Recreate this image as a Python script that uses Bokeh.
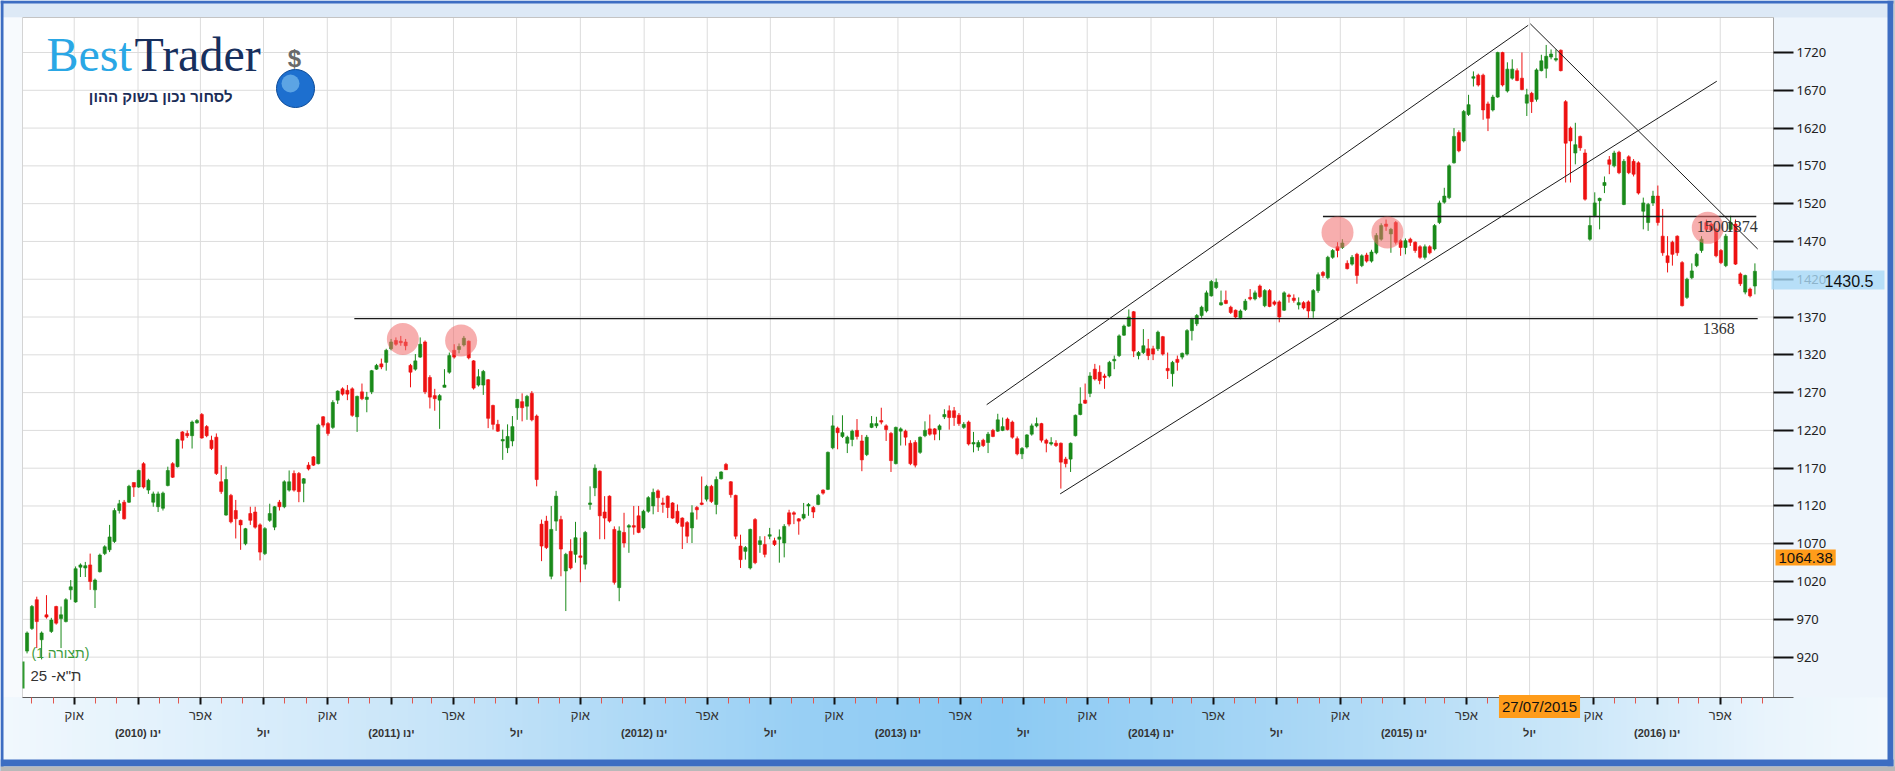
import numpy as np
import pandas as pd
from bokeh.plotting import figure
from bokeh.models import LinearAxis, FixedTicker, Label, BoxAnnotation, ColumnDataSource, Range1d
from bokeh.embed import file_html
from bokeh.resources import INLINE

# ------------------------------------------------------------------ data
FIRST_WEEK = "2009-07-25"          # weekly candles of the TA-25 index

OPEN = [
    928, 958, 996, 943, 976, 954, 987, 971, 967, 1009,
    993, 1039, 1038, 1042, 1009, 1033, 1057, 1062, 1073, 1114,
    1125, 1125, 1151, 1145, 1176, 1141, 1125, 1119, 1117, 1147,
    1176, 1172, 1218, 1216, 1213, 1230, 1241, 1225, 1207, 1211,
    1152, 1108, 1134, 1114, 1101, 1070, 1110, 1112, 1095, 1057,
    1101, 1092, 1125, 1119, 1141, 1163, 1163, 1150, 1174, 1185,
    1176, 1238, 1229, 1224, 1260, 1275, 1273, 1275, 1238, 1271,
    1261, 1271, 1301, 1308, 1310, 1328, 1339, 1338, 1337, 1306,
    1301, 1317, 1337, 1290, 1266, 1260, 1277, 1297, 1326, 1327,
    1333, 1338, 1312, 1280, 1280, 1287, 1253, 1228, 1206, 1197,
    1206, 1250, 1258, 1252, 1269, 1239, 1096, 1100, 1027, 1100,
    1102, 1034, 1060, 1056, 1054, 1043, 1122, 1144, 1166, 1112,
    1133, 1089, 1012, 1085, 1092, 1094, 1107, 1091, 1113, 1120,
    1140, 1124, 1133, 1124, 1113, 1104, 1098, 1091, 1118, 1124,
    1129, 1146, 1122, 1156, 1175, 1152, 1134, 1067, 1060, 1038,
    1102, 1069, 1069, 1080, 1074, 1076, 1071, 1111, 1111, 1103,
    1104, 1120, 1118, 1122, 1141, 1142, 1197, 1223, 1212, 1203,
    1208, 1220, 1206, 1188, 1224, 1226, 1233, 1226, 1216, 1176,
    1219, 1219, 1203, 1204, 1191, 1213, 1222, 1222, 1221, 1238,
    1246, 1246, 1240, 1224, 1231, 1202, 1198, 1207, 1204, 1220,
    1219, 1220, 1235, 1231, 1209, 1189, 1198, 1215, 1226, 1229,
    1207, 1202, 1203, 1203, 1182, 1182, 1213, 1241, 1260, 1269,
    1301, 1297, 1292, 1292, 1312, 1319, 1346, 1358, 1377, 1319,
    1323, 1328, 1328, 1328, 1344, 1302, 1295, 1314, 1317, 1321,
    1352, 1361, 1372, 1378, 1398, 1409, 1386, 1392, 1383, 1379,
    1369, 1380, 1396, 1394, 1411, 1385, 1405, 1390, 1390, 1379,
    1399, 1395, 1386, 1389, 1390, 1378, 1405, 1429, 1422, 1449,
    1463, 1462, 1441, 1440, 1453, 1438, 1452, 1444, 1455, 1473,
    1493, 1480, 1495, 1471, 1462, 1473, 1469, 1463, 1449, 1463,
    1460, 1495, 1522, 1528, 1574, 1614, 1603, 1638, 1686, 1690,
    1690, 1652, 1644, 1661, 1720, 1669, 1686, 1696, 1686, 1653,
    1666, 1658, 1696, 1699, 1714, 1710, 1723, 1655, 1620, 1587,
    1609, 1587, 1473, 1504, 1524, 1544, 1578, 1570, 1588, 1519,
    1582, 1576, 1574, 1510, 1495, 1521, 1530, 1477, 1451, 1469,
    1477, 1442, 1396, 1422, 1438, 1458, 1495, 1493, 1486, 1458,
    1438, 1486, 1493, 1427, 1403, 1407, 1411]

HIGH = [
    954, 989, 1000, 954, 1002, 972, 988, 987, 998, 1022,
    1040, 1044, 1046, 1057, 1024, 1057, 1068, 1095, 1117, 1128,
    1128, 1148, 1151, 1168, 1178, 1156, 1139, 1139, 1139, 1172,
    1178, 1209, 1219, 1220, 1233, 1235, 1243, 1227, 1213, 1216,
    1174, 1172, 1136, 1128, 1102, 1091, 1119, 1119, 1097, 1092,
    1123, 1120, 1128, 1154, 1167, 1167, 1165, 1157, 1178, 1186,
    1229, 1239, 1231, 1260, 1273, 1277, 1280, 1277, 1266, 1282,
    1271, 1300, 1308, 1315, 1328, 1341, 1343, 1345, 1341, 1308,
    1321, 1343, 1339, 1293, 1275, 1268, 1301, 1323, 1334, 1335,
    1345, 1339, 1313, 1301, 1300, 1288, 1254, 1234, 1221, 1228,
    1239, 1261, 1269, 1267, 1272, 1241, 1102, 1107, 1120, 1140,
    1107, 1058, 1076, 1099, 1078, 1087, 1146, 1175, 1167, 1133,
    1134, 1093, 1093, 1111, 1096, 1120, 1120, 1115, 1133, 1143,
    1142, 1131, 1134, 1125, 1122, 1105, 1100, 1121, 1120, 1159,
    1148, 1148, 1159, 1166, 1177, 1153, 1135, 1082, 1067, 1090,
    1104, 1080, 1080, 1091, 1078, 1089, 1096, 1115, 1113, 1104,
    1124, 1124, 1120, 1136, 1142, 1192, 1240, 1225, 1240, 1213,
    1221, 1235, 1214, 1214, 1239, 1238, 1250, 1228, 1218, 1225,
    1224, 1221, 1207, 1207, 1212, 1232, 1241, 1223, 1228, 1248,
    1253, 1251, 1243, 1231, 1233, 1218, 1207, 1209, 1218, 1222,
    1242, 1237, 1237, 1233, 1212, 1198, 1215, 1229, 1237, 1230,
    1209, 1211, 1207, 1204, 1185, 1204, 1241, 1277, 1282, 1297,
    1308, 1306, 1295, 1312, 1319, 1347, 1360, 1380, 1378, 1325,
    1354, 1341, 1332, 1352, 1345, 1323, 1312, 1319, 1323, 1354,
    1369, 1374, 1385, 1405, 1419, 1421, 1405, 1405, 1385, 1380,
    1380, 1394, 1407, 1405, 1413, 1407, 1407, 1392, 1392, 1404,
    1401, 1400, 1396, 1391, 1392, 1407, 1429, 1431, 1451, 1460,
    1469, 1473, 1445, 1452, 1455, 1453, 1455, 1459, 1481, 1494,
    1499, 1488, 1497, 1473, 1474, 1475, 1470, 1465, 1466, 1465,
    1493, 1524, 1541, 1572, 1620, 1617, 1644, 1664, 1695, 1692,
    1692, 1655, 1664, 1721, 1721, 1707, 1711, 1699, 1720, 1672,
    1668, 1699, 1717, 1730, 1724, 1724, 1724, 1657, 1622, 1627,
    1610, 1592, 1504, 1535, 1528, 1556, 1583, 1590, 1590, 1579,
    1584, 1579, 1576, 1528, 1521, 1537, 1544, 1513, 1477, 1471,
    1478, 1444, 1422, 1441, 1455, 1477, 1499, 1495, 1488, 1460,
    1480, 1504, 1499, 1429, 1426, 1409, 1441]

LOW = [
    925, 956, 932, 917, 971, 952, 963, 932, 966, 996,
    992, 1026, 1026, 1009, 985, 1032, 1055, 1059, 1071, 1110,
    1102, 1124, 1132, 1144, 1143, 1136, 1119, 1112, 1114, 1146,
    1157, 1171, 1196, 1210, 1196, 1229, 1209, 1211, 1194, 1161,
    1136, 1107, 1097, 1077, 1062, 1068, 1095, 1090, 1048, 1055,
    1099, 1088, 1114, 1117, 1139, 1139, 1125, 1125, 1167, 1173,
    1175, 1224, 1213, 1222, 1255, 1266, 1260, 1238, 1218, 1260,
    1244, 1268, 1300, 1301, 1299, 1326, 1332, 1332, 1326, 1277,
    1299, 1316, 1268, 1249, 1246, 1222, 1277, 1295, 1315, 1322,
    1331, 1314, 1274, 1278, 1267, 1223, 1221, 1218, 1181, 1190,
    1199, 1234, 1232, 1234, 1232, 1146, 1047, 1063, 1023, 1087,
    1027, 981, 1036, 1045, 1019, 1036, 1115, 1133, 1076, 1076,
    1098, 1016, 994, 1065, 1058, 1082, 1084, 1089, 1111, 1109,
    1112, 1111, 1104, 1103, 1096, 1063, 1071, 1071, 1102, 1121,
    1126, 1124, 1109, 1155, 1168, 1131, 1076, 1038, 1049, 1036,
    1043, 1058, 1052, 1076, 1067, 1045, 1052, 1093, 1096, 1082,
    1102, 1107, 1104, 1121, 1135, 1141, 1195, 1195, 1210, 1190,
    1199, 1208, 1166, 1186, 1223, 1223, 1228, 1206, 1165, 1175,
    1200, 1200, 1174, 1171, 1189, 1211, 1213, 1207, 1207, 1235,
    1221, 1226, 1226, 1222, 1200, 1191, 1193, 1198, 1190, 1211,
    1218, 1219, 1220, 1209, 1187, 1182, 1196, 1213, 1224, 1204,
    1191, 1200, 1198, 1143, 1171, 1165, 1212, 1240, 1255, 1264,
    1286, 1281, 1275, 1290, 1301, 1317, 1345, 1357, 1317, 1314,
    1321, 1313, 1313, 1325, 1319, 1288, 1278, 1299, 1314, 1319,
    1339, 1358, 1369, 1376, 1397, 1407, 1385, 1387, 1374, 1368,
    1367, 1378, 1392, 1392, 1395, 1383, 1383, 1385, 1363, 1378,
    1389, 1389, 1380, 1380, 1369, 1369, 1402, 1422, 1420, 1447,
    1449, 1460, 1433, 1438, 1414, 1436, 1442, 1442, 1453, 1471,
    1484, 1455, 1466, 1451, 1453, 1464, 1455, 1447, 1446, 1453,
    1458, 1493, 1520, 1526, 1573, 1588, 1601, 1636, 1675, 1675,
    1631, 1616, 1642, 1660, 1675, 1667, 1684, 1682, 1670, 1636,
    1640, 1655, 1695, 1686, 1711, 1708, 1695, 1548, 1548, 1572,
    1590, 1524, 1471, 1502, 1486, 1534, 1559, 1568, 1559, 1518,
    1559, 1556, 1532, 1486, 1484, 1517, 1491, 1451, 1429, 1438,
    1451, 1384, 1394, 1420, 1436, 1455, 1484, 1484, 1449, 1440,
    1436, 1484, 1439, 1411, 1400, 1396, 1400]

CLOSE = [
    952, 987, 967, 952, 973, 969, 965, 976, 996, 1013,
    1037, 1042, 1041, 1020, 1022, 1055, 1066, 1079, 1114, 1123,
    1103, 1146, 1145, 1167, 1145, 1154, 1136, 1136, 1137, 1167,
    1158, 1208, 1207, 1213, 1231, 1233, 1210, 1213, 1196, 1163,
    1139, 1155, 1099, 1103, 1095, 1090, 1101, 1092, 1059, 1090,
    1110, 1119, 1119, 1152, 1152, 1141, 1139, 1156, 1169, 1174,
    1227, 1227, 1216, 1257, 1272, 1268, 1268, 1240, 1265, 1262,
    1264, 1299, 1306, 1304, 1326, 1337, 1334, 1336, 1332, 1297,
    1312, 1334, 1271, 1264, 1262, 1266, 1280, 1319, 1317, 1331,
    1342, 1316, 1276, 1291, 1298, 1236, 1228, 1219, 1208, 1212,
    1225, 1261, 1250, 1265, 1234, 1155, 1067, 1065, 1089, 1133,
    1063, 1056, 1038, 1078, 1052, 1085, 1124, 1170, 1107, 1104,
    1100, 1019, 1087, 1071, 1094, 1092, 1085, 1113, 1131, 1138,
    1131, 1122, 1118, 1104, 1098, 1093, 1080, 1111, 1115, 1122,
    1146, 1126, 1155, 1165, 1168, 1135, 1080, 1049, 1065, 1089,
    1045, 1074, 1056, 1082, 1069, 1079, 1093, 1096, 1109, 1100,
    1109, 1122, 1112, 1134, 1137, 1191, 1226, 1217, 1217, 1211,
    1219, 1212, 1181, 1211, 1229, 1229, 1231, 1221, 1180, 1224,
    1222, 1211, 1176, 1174, 1211, 1220, 1215, 1215, 1226, 1241,
    1237, 1237, 1229, 1228, 1202, 1204, 1204, 1200, 1215, 1212,
    1234, 1225, 1221, 1211, 1189, 1196, 1214, 1226, 1229, 1207,
    1203, 1204, 1200, 1178, 1176, 1203, 1240, 1255, 1256, 1292,
    1288, 1286, 1290, 1310, 1314, 1345, 1358, 1370, 1325, 1323,
    1332, 1319, 1321, 1350, 1321, 1299, 1310, 1310, 1322, 1352,
    1367, 1372, 1383, 1402, 1417, 1416, 1389, 1388, 1376, 1370,
    1378, 1391, 1394, 1402, 1397, 1405, 1384, 1387, 1370, 1402,
    1397, 1392, 1389, 1382, 1378, 1405, 1426, 1425, 1449, 1458,
    1458, 1468, 1434, 1449, 1425, 1451, 1444, 1456, 1478, 1491,
    1490, 1486, 1469, 1462, 1471, 1469, 1458, 1449, 1463, 1455,
    1491, 1521, 1530, 1570, 1609, 1590, 1642, 1651, 1688, 1677,
    1644, 1633, 1661, 1720, 1677, 1698, 1698, 1683, 1671, 1664,
    1655, 1697, 1709, 1715, 1718, 1712, 1696, 1600, 1603, 1598,
    1594, 1526, 1491, 1521, 1527, 1548, 1572, 1587, 1561, 1576,
    1561, 1559, 1534, 1521, 1519, 1530, 1495, 1455, 1442, 1453,
    1455, 1385, 1420, 1431, 1453, 1473, 1486, 1485, 1451, 1442,
    1477, 1495, 1440, 1414, 1425, 1398, 1430.5]

Y_TICKS = [920, 970, 1020, 1070, 1120, 1170, 1220, 1270, 1320,
           1370, 1420, 1470, 1520, 1570, 1620, 1670, 1720]
MONTH_LABELS = {1: "ינו", 4: "אפר", 7: "יול", 10: "אוק"}
AXIS_MONTHS = ("2009-08-01", "2016-06-01")

# highlighted tops (pink circles)
MARK_DATES = ["2011-01-18", "2011-04-12", "2014-09-27", "2014-12-08", "2016-03-14"]
MARK_PRICES = [1341, 1339, 1482, 1482, 1488]

# drawn lines: channel top, channel bottom, down trend, support 1368, level 1500
LINE_START_DATES = ["2013-05-09", "2013-08-23", "2015-07-02", "2010-11-09", "2014-09-06"]
LINE_START_PRICES = [1254, 1136, 1758, 1368, 1503]
LINE_END_DATES = ["2015-06-29", "2016-03-27", "2016-05-25", "2016-05-25", "2016-05-23"]
LINE_END_PRICES = [1756, 1682, 1460, 1368, 1503]

LEVEL_TEXTS = ["1368", "1500", "1374"]
LEVEL_TEXT_DATES = ["2016-03-30", "2016-02-27", "2016-04-09"]
LEVEL_TEXT_PRICES = [1368, 1503, 1503]

LAST_PRICE_TEXT = "1430.5"
CURSOR_PRICE_TEXT = "1064.38"
CURSOR_DATE_TEXT = "27/07/2015"

# ------------------------------------------------------------------ layout helpers
W, H = 1895, 771
DAY = 86400000.0


def ms(s):
    return pd.Timestamp(s).value / 1e6


T2010 = ms("2010-01-01")
X_JAN2010, PX_YEAR = 137.5, 253.25
MS_PX = 365.25 * DAY / PX_YEAR
Y_1720, PX_PT = 52.0, 0.7558


def X(rx):  # page pixel -> time (ms)
    return T2010 + (rx - X_JAN2010) * MS_PX


def Y(ry):  # page pixel -> price
    return 1720.0 - (ry - Y_1720) / PX_PT


PL, PR, PT, PB = X(22), X(1773), Y(17), Y(697)

p = figure(width=W, height=H, x_range=Range1d(X(0), X(W)),
           y_range=Range1d(Y(H), Y(0)),
           x_axis_type=None, y_axis_type=None, toolbar_location=None,
           output_backend="svg", min_border=0,
           background_fill_color="#eef5fc", border_fill_color="#eef5fc")
p.outline_line_color = None


def box(x0, x1, y0, y1, color):
    p.quad(left=[X(x0)], right=[X(x1)], bottom=[Y(y1)], top=[Y(y0)],
           fill_color=color, line_color=None)


# backgrounds
box(0, W, 0, 17, "#dde9f6")
box(0, 22, 17, 697, "#f7fafd")
p.quad(left=[PL], right=[PR], bottom=[PB], top=[PT], fill_color="white", line_color=None)


def hex2rgb(h):
    return [int(h[i:i + 2], 16) for i in (1, 3, 5)]


BAND_STOPS = [(0, "#f1f8fd"), (150, "#e4f2fc"), (480, "#c2e2f8"), (800, "#98cff4"),
              (1000, "#8ccaf3"), (1300, "#a9d7f5"), (1570, "#cbe7f9"), (1770, "#e9f4fc"),
              (1895, "#f3f9fd")]
sx = [s[0] for s in BAND_STOPS]
scol = np.array([hex2rgb(s[1]) for s in BAND_STOPS], float)
edges = np.arange(0, W + 6, 6)
band_cols = []
for e in edges[:-1]:
    c = [int(round(np.interp(e + 3, sx, scol[:, k]))) for k in range(3)]
    band_cols.append("#%02x%02x%02x" % tuple(c))
p.quad(left=[X(e) for e in edges[:-1]], right=[X(e + 7) for e in edges[:-1]],
       bottom=Y(H), top=PB, fill_color=band_cols, line_color=None)

# window frame
box(0, W, 0, 3, "#3d6dc2")
box(0, 3, 0, H, "#3d6dc2")
box(1887, 1893, 0, 766, "#3d6dc2")
box(1893, W, 0, H, "#c9c9c9")
box(0, 1893, 759, 766, "#3d6dc2")
box(0, W, 766, H, "#b9b9b9")

# ticks positions
months = pd.date_range(AXIS_MONTHS[0], AXIS_MONTHS[1], freq="MS")
quarters = [d for d in months if d.month in MONTH_LABELS]
minor = [d for d in months if d.month not in MONTH_LABELS]


def tms(d):
    return int(d.value // 10 ** 6)


# grid
p.segment(x0=PL, y0=Y_TICKS, x1=PR, y1=Y_TICKS, line_color="#dcdcdc", line_width=1)
p.segment(x0=[tms(d) for d in quarters], y0=PB, x1=[tms(d) for d in quarters], y1=PT,
          line_color="#dcdcdc", line_width=1)
# frame lines
p.segment(x0=[PL], y0=[PT], x1=[PR], y1=[PT], line_color="#c4c4c4", line_width=1)
p.segment(x0=[PL], y0=[PB], x1=[PL], y1=[PT], line_color="#d4d4d4", line_width=1)
p.segment(x0=[PR], y0=[PB], x1=[PR], y1=[PT], line_color="#a4a4a4", line_width=1)
p.segment(x0=[PL], y0=[PB], x1=[X(1793)], y1=[PB], line_color="#5a5a5a", line_width=1)

# candles
dates = pd.date_range(FIRST_WEEK, periods=len(OPEN), freq="7D")
t = dates.values.astype("datetime64[ms]").astype("int64").astype(float)
o, h, l, c = (np.array(a, float) for a in (OPEN, HIGH, LOW, CLOSE))
col = np.where(c >= o, "#1a8a1a", "#ee1111")
src = ColumnDataSource(dict(t=t, o=o, h=h, l=l, c=c, top=np.maximum(o, c),
                            bot=np.minimum(o, c), col=col))
p.segment(x0="t", y0="l", x1="t", y1="h", line_color="col", line_width=1, source=src)
p.vbar(x="t", width=4.5 * DAY, top="top", bottom="bot", fill_color="col",
       line_color="col", line_width=0.6, source=src)

# drawn lines
lw = [1, 1, 1, 1.3, 1.3]
p.segment(x0=[ms(d) for d in LINE_START_DATES], y0=LINE_START_PRICES,
          x1=[ms(d) for d in LINE_END_DATES], y1=LINE_END_PRICES,
          line_color="#1a1a1a", line_width=lw)

# circles
p.scatter(x=[ms(d) for d in MARK_DATES], y=MARK_PRICES, size=32,
          fill_color="#f06b6b", fill_alpha=0.55, line_color=None)

# level labels
for txt, d, pr, al in zip(LEVEL_TEXTS, LEVEL_TEXT_DATES, LEVEL_TEXT_PRICES,
                          ["center", "left", "left"]):
    p.add_layout(Label(x=ms(d), y=pr, y_offset=-4, text=txt, text_align=al,
                       text_baseline="top", text_font="Liberation Serif",
                       text_font_size="16px", text_color="#333333"))

# ------------------------------------------------------------------ axes
yax = LinearAxis(fixed_location=PR, ticker=FixedTicker(ticks=Y_TICKS))
yax.axis_line_color = None
yax.major_tick_out = 20
yax.major_tick_in = 0
yax.minor_tick_out = 0
yax.minor_tick_in = 0
yax.major_tick_line_color = "#111111"
yax.major_tick_line_width = 2
yax.major_label_standoff = 3
yax.major_label_text_font = "Noto Sans"
yax.major_label_text_font_size = "13px"
yax.major_label_text_color = "#222222"
p.add_layout(yax, "right")


def make_xaxis(ds, labels, tick_color, tick_out, tick_w, standoff, size, color, style="normal"):
    ticks = [tms(d) for d in ds]
    ax = LinearAxis(fixed_location=PB, ticker=FixedTicker(ticks=ticks))
    ax.major_label_overrides = {k: v for k, v in zip(ticks, labels)}
    ax.axis_line_color = None
    ax.major_tick_in = 0
    ax.major_tick_out = tick_out
    ax.major_tick_line_color = tick_color
    ax.major_tick_line_width = tick_w
    ax.minor_tick_out = 0
    ax.minor_tick_in = 0
    ax.major_label_standoff = standoff
    ax.major_label_text_font = "Liberation Sans"
    ax.major_label_text_font_size = size
    ax.major_label_text_color = color
    ax.major_label_text_font_style = style
    p.add_layout(ax, "below")


row1 = [d for d in quarters if d.month in (4, 10)]
row2 = [d for d in quarters if d.month in (1, 7)]
make_xaxis(minor, ["" for _ in minor], "#e2574f", 6, 1, 0, "1px", "#ffffff")
make_xaxis(row1, [MONTH_LABELS[d.month] for d in row1], "#111111", 7, 2, 3, "13px", "#333333")
make_xaxis(row2, [f"({d.year}) {MONTH_LABELS[1]}" if d.month == 1 else MONTH_LABELS[d.month]
                  for d in row2], "#111111", 7, 2, 22, "11px", "#333333", "bold")

# ------------------------------------------------------------------ price / date tags
p.add_layout(BoxAnnotation(left=X(1771), right=X(1884), bottom=Y(289), top=Y(270),
                           fill_color="#a9d9f6", fill_alpha=0.8, line_color=None))
p.add_layout(Label(x=X(1824), y=Y(280), text=LAST_PRICE_TEXT, text_baseline="middle",
                   text_font="Liberation Sans", text_font_size="16px", text_color="#111111"))
p.add_layout(Label(x=X(1775), y=Y(557), text=CURSOR_PRICE_TEXT, text_baseline="middle",
                   text_font="Liberation Sans", text_font_size="15px", text_color="#111111",
                   background_fill_color="#ff9c1a", padding=3))
p.add_layout(Label(x=X(1539), y=Y(706), text=CURSOR_DATE_TEXT, text_align="center",
                   text_baseline="middle", text_font="Liberation Sans", text_font_size="15px",
                   text_color="#111111", background_fill_color="#ff9c1a", padding=3))

# legend-like labels bottom-left
p.add_layout(Label(x=X(31), y=Y(652), text="(תצורה 1)", text_baseline="middle",
                   text_font="Liberation Sans", text_font_size="14px", text_color="#3c9c3c"))
p.add_layout(Label(x=X(30), y=Y(675), text='ת"א- 25', text_baseline="middle",
                   text_font="Liberation Sans", text_font_size="15px", text_color="#333333"))
p.segment(x0=[X(23)], y0=[Y(661)], x1=[X(23)], y1=[Y(688)], line_color="#2f9a2f", line_width=2)

# logo
p.add_layout(Label(x=X(46), y=Y(80), text="Best", text_font="Liberation Serif",
                   text_font_size="48px", text_color="#2aa7e5"))
p.add_layout(Label(x=X(134), y=Y(80), text="Trader", text_font="Liberation Serif",
                   text_font_size="48px", text_color="#172f5d"))
p.add_layout(Label(x=X(232), y=Y(96), text="לסחור נכון בשוק ההון", text_align="right",
                   text_baseline="middle", text_font="Liberation Sans", text_font_size="15px",
                   text_font_style="bold", text_color="#1b2d57"))
p.scatter(x=[X(295)], y=[Y(88)], size=38, fill_color="#1d6fcf", line_color="#0b4a98")
p.scatter(x=[X(290)], y=[Y(83)], size=18, fill_color="#8fd0f5", fill_alpha=0.55, line_color=None)
p.add_layout(Label(x=X(294), y=Y(58), text="$", text_align="center", text_baseline="middle",
                   text_font="Liberation Sans", text_font_size="24px", text_font_style="bold",
                   text_color="#6a6a6a"))

open("out.html", "w", encoding="utf-8").write(file_html(p, INLINE, title="TA-25"))
